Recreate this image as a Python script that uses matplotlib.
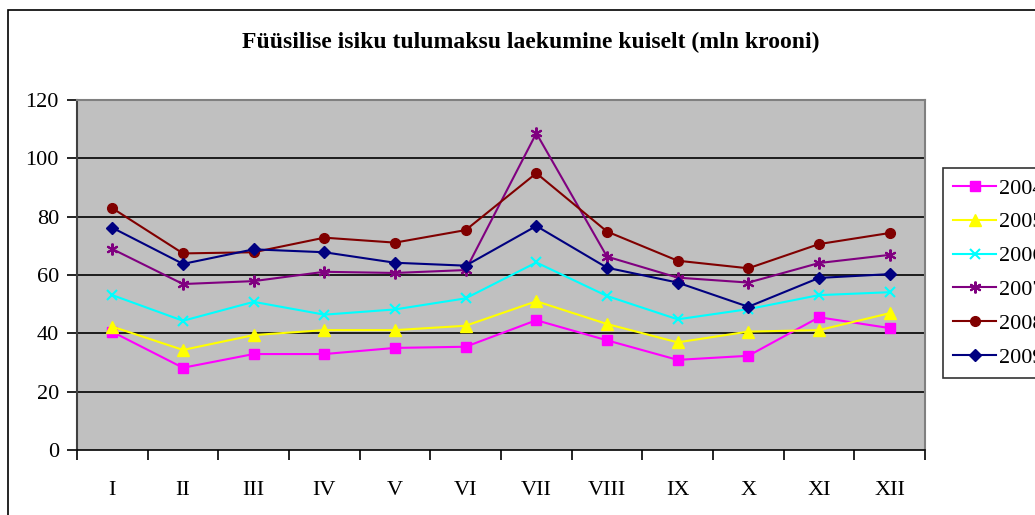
import matplotlib.pyplot as plt
from matplotlib.patches import Rectangle

months = ['I', 'II', 'III', 'IV', 'V', 'VI', 'VII', 'VIII', 'IX', 'X', 'XI', 'XII']

y2004 = [40.5, 28.2, 32.9, 32.9, 35.0, 35.4, 44.5, 37.6, 30.9, 32.3, 45.5, 41.8]
y2005 = [42.3, 34.3, 39.4, 41.1, 41.1, 42.6, 51.0, 43.2, 36.9, 40.6, 41.1, 46.9]
y2006 = [53.1, 44.3, 50.8, 46.4, 48.2, 52.0, 64.3, 52.8, 44.8, 48.3, 53.1, 54.1]
y2007 = [68.9, 56.9, 57.9, 61.1, 60.7, 61.7, 108.6, 66.3, 59.1, 57.4, 64.1, 66.9]
y2008 = [82.9, 67.4, 67.8, 72.8, 71.1, 75.4, 94.9, 74.9, 64.9, 62.3, 70.6, 74.4]
y2009 = [76.2, 63.8, 68.8, 67.8, 64.2, 63.2, 76.8, 62.5, 57.4, 49.1, 59.0, 60.3]

series = [
    ('2004', y2004, '#FF00FF', 's', 7),
    ('2005', y2005, '#FFFF00', '^', 8),
    ('2006', y2006, '#00FFFF', 'x', 7),
    ('2007', y2007, '#800080', (6, 2, 0), 8.5),
    ('2008', y2008, '#800000', 'o', 7),
    ('2009', y2009, '#000080', 'D', 6.5),
]

plt.rcParams['font.family'] = ['Liberation Serif', 'DejaVu Serif']

fig = plt.figure(figsize=(10.35, 5.15), dpi=100)
W, H = 1035, 515
ax = fig.add_axes([77 / W, 1 - 450 / H, (925 - 77) / W, 350 / H])
ax.set_facecolor('#C0C0C0')

x = list(range(len(months)))
for name, vals, col, mk, ms in series:
    mew = 1.5 if mk == 'x' or isinstance(mk, tuple) else 1
    ax.plot(x, vals, color=col, lw=1.5, marker=mk, ms=ms, mew=mew,
            mfc=col, mec=col, label=name, zorder=3)

ax.set_xlim(-0.5, 11.5)
ax.set_ylim(0, 120)
ax.set_yticks(range(0, 121, 20))
ax.set_xticks(x)
ax.set_xticklabels(months)
ax.set_xticks([i - 0.5 for i in range(13)], minor=True)
ax.tick_params(axis='x', which='major', length=0, pad=22, labelsize=16)
ax.tick_params(axis='x', which='minor', length=7, direction='out', width=1.2, color='black')
ax.tick_params(axis='y', length=7, direction='out', width=1.2, labelsize=16, pad=6)
for v in range(20, 101, 20):
    ax.axhline(v, color='black', lw=1.2, zorder=1)

for s in ['top', 'right']:
    ax.spines[s].set_color('#808080')
    ax.spines[s].set_linewidth(1.5)
ax.spines['left'].set_color('#404040')
ax.spines['left'].set_linewidth(1.5)
ax.spines['bottom'].set_color('black')
ax.spines['bottom'].set_linewidth(1.2)

fig.text(531 / W, 1 - 42 / H, 'Füüsilise isiku tulumaksu laekumine kuiselt (mln krooni)',
         ha='center', va='center', fontsize=17, fontweight='bold')

leg = ax.legend(loc='upper left', bbox_to_anchor=(943 / W, 1 - 168 / H),
                bbox_transform=fig.transFigure, frameon=True, fancybox=False,
                fontsize=16, handlelength=1.95, labelspacing=0.6,
                borderpad=0.45, handletextpad=0.1, borderaxespad=0)
leg.get_frame().set_edgecolor('black')
leg.get_frame().set_linewidth(1.2)

fig.patches.append(Rectangle((8 / W, -0.1), 1.1, 1.1 - 10 / H,
                             transform=fig.transFigure, fill=False,
                             edgecolor='black', lw=1.2))

fig.savefig('out.png', dpi=100)
